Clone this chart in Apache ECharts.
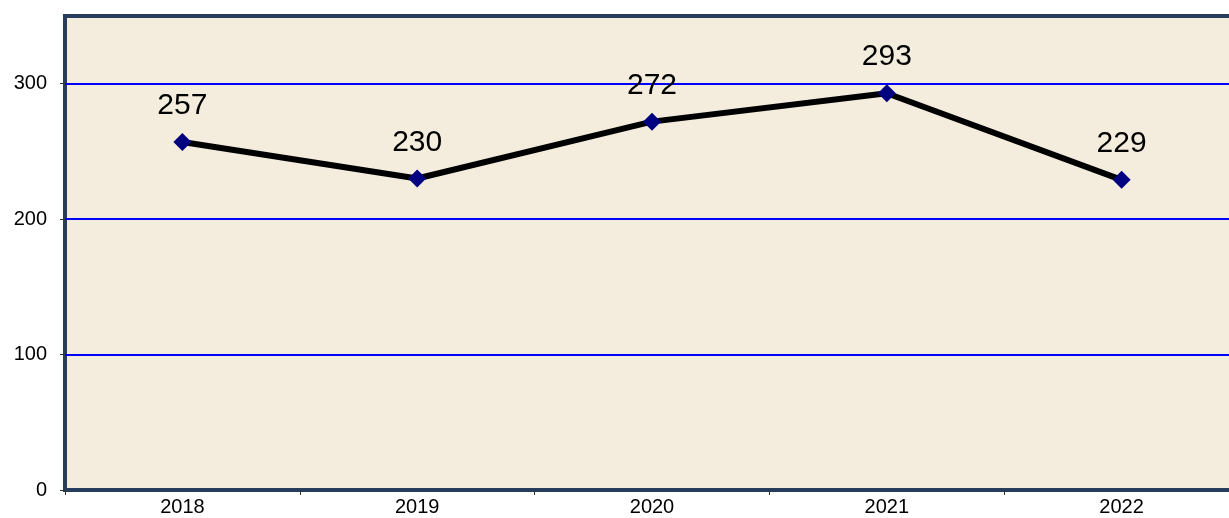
<!DOCTYPE html>
<html>
<head>
<meta charset="utf-8">
<style>
  html, body { margin: 0; padding: 0; background: #ffffff; }
  #chart { width: 1229px; height: 518px; }
</style>
<script src="https://cdn.jsdelivr.net/npm/echarts@6/dist/echarts.min.js"></script>
</head>
<body>
<div id="chart"></div>
<script>
// Yearly totals
const years = ['2018', '2019', '2020', '2021', '2022'];
const totals = [257, 230, 272, 293, 229];
const yTicks = [0, 100, 200, 300];
const gridLevels = [100, 200, 300];

const font = 'Liberation Sans, Arial, sans-serif';
const chart = echarts.init(document.getElementById('chart'), null, { renderer: 'canvas' });

chart.setOption({
  animation: false,
  backgroundColor: '#ffffff',
  grid: {
    left: 65,
    top: 16,
    right: -10,
    bottom: 28,
    outerBoundsMode: 'none',
    containLabel: false,
    show: true,
    backgroundColor: '#f4ecdc',
    borderColor: '#263d5e',
    borderWidth: 4
  },
  xAxis: {
    type: 'category',
    data: years,
    boundaryGap: true,
    axisLine: { show: false },
    axisTick: { show: true, length: 5, lineStyle: { color: '#333', width: 1 } },
    axisLabel: { color: '#000', fontFamily: font, fontSize: 20, margin: 7 },
    splitLine: { show: false }
  },
  yAxis: {
    type: 'value',
    min: 0,
    max: 350,
    interval: 100,
    axisLine: { show: false },
    axisTick: {
      show: true, length: 5, customValues: yTicks,
      lineStyle: { color: '#333', width: 1 }
    },
    axisLabel: {
      color: '#000', fontFamily: font, fontSize: 20, margin: 18,
      customValues: yTicks
    },
    splitLine: { show: false }
  },
  series: [{
    type: 'line',
    data: totals,
    symbol: 'diamond',
    symbolSize: 18,
    itemStyle: { color: '#000080' },
    lineStyle: { color: '#000000', width: 6 },
    label: {
      show: true,
      position: 'top',
      distance: 12,
      color: '#000',
      fontFamily: font,
      fontSize: 30
    },
    markLine: {
      silent: true,
      symbol: 'none',
      label: { show: false },
      lineStyle: { color: '#0000ff', width: 2, type: 'solid' },
      z: 1,
      data: gridLevels.map(function (v) { return { yAxis: v }; })
    },
    z: 3
  }]
});
</script>
</body>
</html>
